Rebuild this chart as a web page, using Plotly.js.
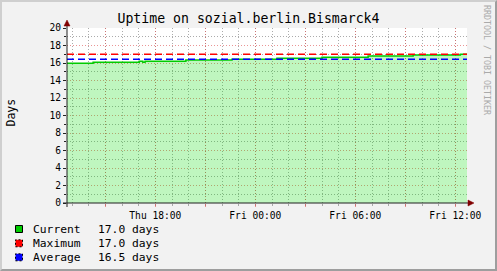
<!DOCTYPE html>
<html><head><meta charset="utf-8">
<script src="https://cdn.plot.ly/plotly-3.0.1.min.js"></script>
<style>
html,body{margin:0;padding:0;background:#f2f2f2;}
#wrap{position:relative;width:497px;height:271px;overflow:hidden;}
#chart{width:497px;height:271px;}
#frame{position:absolute;left:0;top:0;width:497px;height:271px;box-sizing:border-box;border-top:2px solid #cfcfcf;border-left:2px solid #cfcfcf;border-bottom:2px solid #9e9e9e;border-right:2px solid #9e9e9e;pointer-events:none;}
</style></head><body>
<div id="wrap"><div id="chart"></div><div id="frame"></div></div>
<script>
// ---- data ----
const times = ['2024-01-04 12:42','2024-01-04 14:16','2024-01-04 17:02','2024-01-04 17:15','2024-01-04 17:23','2024-01-04 19:50','2024-01-04 22:36','2024-01-05 01:18','2024-01-05 04:00','2024-01-05 06:46','2024-01-05 09:28','2024-01-05 12:18','2024-01-05 12:42'];
const uptimeDays = [15.97,16.08,16.21,16.08,16.19,16.33,16.42,16.53,16.65,16.80,16.91,17.00,17.00];
const maxDays = 17.0;
const avgDays = 16.44;
const xRange = ['2024-01-04 12:42','2024-01-05 12:42'];
const xTickVals = ['2024-01-04 15:00','2024-01-04 18:00','2024-01-04 21:00','2024-01-05 00:00','2024-01-05 03:00','2024-01-05 06:00','2024-01-05 09:00','2024-01-05 12:00'];
const xTickText = ['','Thu 18:00','','Fri 00:00','','Fri 06:00','','Fri 12:00'];
const legendNames = ['Current','Maximum','Average'];
const legendValues = ['17.0 days','17.0 days','16.5 days'];
const legendColors = ['#00cc00','#ff0000','#0000ff'];
const titleText = 'Uptime on sozial.berlin.Bismarck4';
const yTitle = 'Days';
const watermark = 'RRDTOOL / TOBI OETIKER';

// ---- geometry helpers (pixel -> paper) ----
const W=497,H=271,L=67,R=30,T=28,B=68;
const PW=W-L-R, PH=H-T-B;
const px = x => (x-L)/PW;
const py = y => (H-B-y)/PH;

const FONT='DejaVu Sans Mono';
const GRID='rgba(143,143,143,0.75)';
const MGRID='rgba(222,79,79,0.6)';
const AXIS='#212121';
const ARROW='#800000';

const traces = [
  {x: times, y: uptimeDays, type:'scatter', mode:'lines', line:{shape:'hv', color:'#00cc00', width:1.5},
   fill:'tozeroy', fillcolor:'rgba(0,220,0,0.25)', hoverinfo:'skip'},
  {x: xRange, y:[maxDays,maxDays], type:'scatter', mode:'lines', line:{color:'#ff0000', width:1.5, dash:'7px,4px'}, hoverinfo:'skip'},
  {x: xRange, y:[avgDays,avgDays], type:'scatter', mode:'lines', line:{color:'#0000ff', width:1.5, dash:'7px,4px'}, hoverinfo:'skip'}
];

const shapes = [
  {type:'line', xref:'paper', yref:'paper', x0:0, x1:0, y0:py(207), y1:py(26), line:{color:AXIS,width:1}},
  {type:'line', xref:'paper', yref:'paper', x0:px(63), x1:px(468), y0:0, y1:0, line:{color:AXIS,width:1}},
  {type:'path', xref:'paper', yref:'paper', path:`M ${px(64)},${py(26)} L ${px(70)},${py(26)} L ${px(67)},${py(20)} Z`, fillcolor:ARROW, line:{color:ARROW,width:0.5}},
  {type:'path', xref:'paper', yref:'paper', path:`M ${px(468)},${py(200)} L ${px(468)},${py(206)} L ${px(474)},${py(203)} Z`, fillcolor:ARROW, line:{color:ARROW,width:0.5}}
];
const annotations = [
  {xref:'paper', yref:'paper', x:px(10.5), y:py(113), xanchor:'center', yanchor:'middle', text:yTitle, textangle:-90, showarrow:false, font:{family:FONT,size:11.5,color:'#000'}},
  {xref:'paper', yref:'paper', x:px(487), y:py(60), xanchor:'center', yanchor:'middle', text:watermark, textangle:90, showarrow:false, font:{family:FONT,size:8.3,color:'#aaaaaa'}}
];
const rowY = [229, 243.3, 257.3];
legendNames.forEach((n,i)=>{
  annotations.push({xref:'paper', yref:'paper', x:px(30.7), y:py(rowY[i]), xanchor:'left', yanchor:'middle', text:n, showarrow:false, font:{family:FONT,size:11.3,color:'#000'}});
  annotations.push({xref:'paper', yref:'paper', x:px(95.7), y:py(rowY[i]), xanchor:'left', yanchor:'middle', text:legendValues[i], showarrow:false, font:{family:FONT,size:11.3,color:'#000'}});
  shapes.push({type:'rect', xref:'paper', yref:'paper', x0:px(15.5), x1:px(22.5), y0:py(rowY[i]+3.5), y1:py(rowY[i]-3.5), fillcolor:legendColors[i], line:{color:'#000', width:1, dash: i===0?'solid':'2px,2px'}});
});

const layout = {
  width:W, height:H, margin:{l:L,r:R,t:T,b:B,pad:0},
  paper_bgcolor:'#f2f2f2', plot_bgcolor:'#ffffff', showlegend:false,
  title:{text:titleText, x:0.5, xref:'container', xanchor:'center', y:1-18.5/H, yref:'container', yanchor:'middle', font:{family:FONT,size:13.2,color:'#000'}},
  xaxis:{type:'date', range:xRange, tickmode:'array', tickvals:xTickVals, ticktext:xTickText,
    showgrid:true, gridcolor:MGRID, griddash:'1px,2px', gridwidth:1,
    ticks:'outside', ticklen:3, tickcolor:MGRID, showline:false, zeroline:false,
    tickfont:{family:FONT,size:9.6,color:'#000'},
    minor:{tickmode:'linear', tick0:'2024-01-04 00:00', dtick:3600000, showgrid:true, gridcolor:GRID, griddash:'1px,2px', gridwidth:1, ticks:'outside', ticklen:2, tickcolor:GRID},
    fixedrange:true},
  yaxis:{range:[0,20], dtick:2, tick0:0, showgrid:true, gridcolor:MGRID, griddash:'1px,2px', gridwidth:1,
    ticks:'outside', ticklen:3, tickcolor:AXIS, showline:false, zeroline:false,
    tickfont:{family:FONT,size:9.6,color:'#000'},
    minor:{dtick:1, showgrid:true, gridcolor:GRID, griddash:'1px,2px', gridwidth:1, ticks:'outside', ticklen:2, tickcolor:AXIS},
    fixedrange:true},
  shapes:shapes, annotations:annotations
};
Plotly.newPlot('chart', traces, layout, {displayModeBar:false, staticPlot:true});
</script>
</body></html>
